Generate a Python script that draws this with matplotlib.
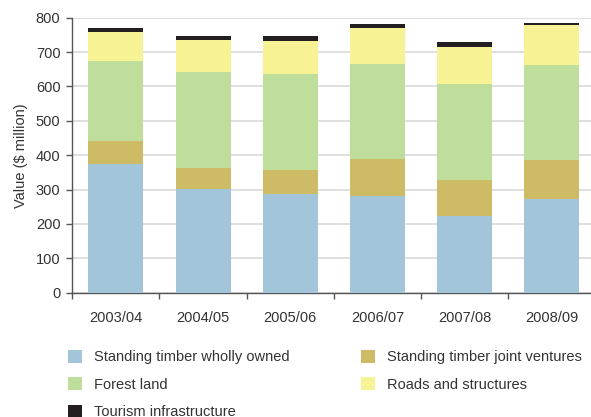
import matplotlib.pyplot as plt
import numpy as np

plt.rcParams['font.family'] = ['Liberation Sans', 'DejaVu Sans']

years = ["2003/04", "2004/05", "2005/06", "2006/07", "2007/08", "2008/09"]
timber_owned = [375, 302, 287, 281, 223, 273]
timber_jv = [66, 61, 70, 108, 105, 113]
forest_land = [233, 279, 279, 276, 279, 276]
roads = [84, 93, 96, 105, 108, 117]
tourism = [12, 12, 15, 12, 14, 6]

series = [
    ("Standing timber wholly owned", timber_owned, "#a3c5da"),
    ("Standing timber joint ventures", timber_jv, "#cdbb66"),
    ("Forest land", forest_land, "#bfdd9b"),
    ("Roads and structures", roads, "#f7f294"),
    ("Tourism infrastructure", tourism, "#231f20"),
]

text_col = "#333333"
axis_col = "#555555"

fig = plt.figure(figsize=(5.91, 4.17), dpi=100)
ax = fig.add_axes([0.1223, 0.298, 0.8853, 0.6595])

x = np.arange(len(years))
bottom = np.zeros(len(years))
bars = {}
for name, vals, col in series:
    bars[name] = ax.bar(x, vals, width=0.63, bottom=bottom, color=col,
                        label=name, zorder=3)
    bottom += np.array(vals)

ax.set_xlim(-0.5, 5.5)
ax.set_ylim(0, 800)
ax.set_yticks(range(0, 801, 100))
ax.yaxis.grid(True, color="#d9d9d9", linewidth=1.2, zorder=0)
ax.set_axisbelow(True)

ax.set_xticks(x)
ax.set_xticklabels(years)
ax.set_xticks(np.arange(-0.5, 5.5, 1), minor=True)
ax.tick_params(axis="x", which="major", length=0, pad=13.5,
               labelsize=10.5, labelcolor=text_col)
ax.tick_params(axis="x", which="minor", length=4.5, width=1, color=axis_col,
               direction="out")
ax.tick_params(axis="y", length=4, width=1, color=axis_col, pad=4.5,
               labelsize=10.5, labelcolor=text_col)

for side in ("top", "right"):
    ax.spines[side].set_visible(False)
for side in ("left", "bottom"):
    ax.spines[side].set_color(axis_col)
    ax.spines[side].set_linewidth(1)

ax.set_ylabel("Value ($ million)", fontsize=10.5, color=text_col, labelpad=6)

# legend: two columns, tourism sits alone on the third row
order = ["Standing timber wholly owned", "Forest land", "Tourism infrastructure",
         "Standing timber joint ventures", "Roads and structures"]
handles = [bars[n] for n in order]
fig.legend(handles, order, ncol=2, loc="upper left",
           bbox_to_anchor=(0.1146, 0.161), frameon=False, fontsize=10.5,
           handlelength=0.96, handleheight=0.96, handletextpad=0.87,
           labelspacing=0.89, columnspacing=4.85, labelcolor=text_col,
           borderaxespad=0, borderpad=0)

fig.savefig("out.png", dpi=100)
